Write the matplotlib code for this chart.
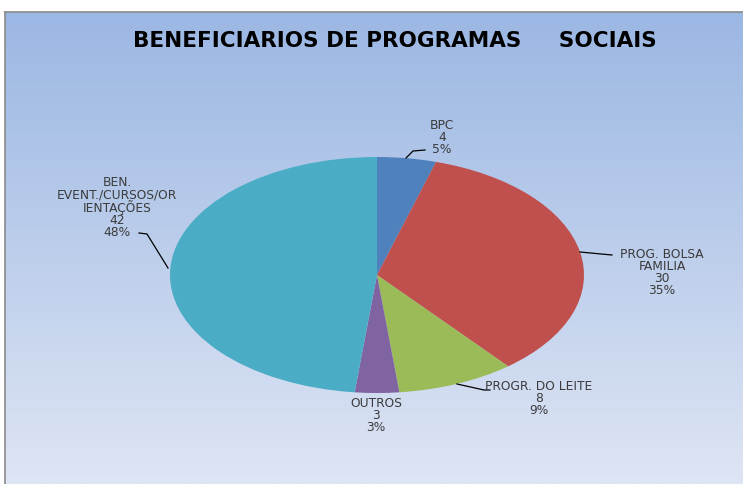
import numpy as np
import matplotlib
matplotlib.use("Agg")
import matplotlib.pyplot as plt
from matplotlib.lines import Line2D

# ---- data ----
categories = ["BPC", "PROG. BOLSA\nFAMILIA", "PROGR. DO LEITE", "OUTROS",
              "BEN.\nEVENT./CURSOS/OR\nIENTAÇÕES"]
values = [4, 30, 8, 3, 42]
pct_labels = ["5%", "35%", "9%", "3%", "48%"]
colors = ["#4F81BD", "#C0504D", "#9BBB59", "#8064A2", "#4BACC6"]
title = "BENEFICIARIOS DE PROGRAMAS     SOCIAIS"

W, H = 743, 484
fig = plt.figure(figsize=(W / 100, H / 100), dpi=100)
fig.patch.set_facecolor("white")

# ---- gradient background (chart area) ----
top = np.array([155, 183, 227]) / 255
bot = np.array([222, 229, 244]) / 255
t = np.linspace(0, 1, 256)[:, None]
grad = (top[None, :] * (1 - t) + bot[None, :] * t)[:, None, :]
bg = fig.add_axes([5 / W, 0, (W - 5) / W, (H - 12) / H])
bg.imshow(grad, aspect="auto", extent=[0, 1, 0, 1], origin="upper")
bg.set_axis_off()
fig.add_artist(Line2D([5 / W, 1], [1 - 12 / H, 1 - 12 / H], color="#8a8a8a", lw=1.2))
fig.add_artist(Line2D([5 / W, 5 / W], [0, 1 - 12 / H], color="#8a8a8a", lw=1.2))

# ---- pie axes: unit circle mapped onto ellipse ----
CX, CY, RX, RY = 377, 275, 207, 118
ax = fig.add_axes([0, 0, 1, 1])
ax.patch.set_alpha(0)

ax.pie(values, colors=colors, startangle=90, counterclock=False, radius=1.0,
       wedgeprops=dict(linewidth=0), center=(0, 0), frame=True)
ax.set_xlim((0 - CX) / RX, (W - CX) / RX)
ax.set_ylim((CY - H) / RY, (CY - 0) / RY)
ax.set_aspect("auto")
ax.set_axis_off()


def p(x, y):
    return ((x - CX) / RX, (CY - y) / RY)


# label anchor (pixel, center-x, top-y) and leader polyline (pixels)
label_pos = [(442, 119), (662, 248), (539, 380), (376, 397), (117, 176)]
leaders = [
    [(406, 158), (413, 151), (425, 150)],
    [(580, 252), (612, 255)],
    [(457, 384), (484, 390), (490, 390)],
    None,
    [(168, 268), (147, 234), (139, 233)],
]

tc = "#3b3b3b"
for cat, v, pc, lp, ld in zip(categories, values, pct_labels, label_pos, leaders):
    txt = f"{cat}\n{v}\n{pc}"
    x, y = p(*lp)
    ax.text(x, y, txt, ha="center", va="top", fontsize=8.8, color=tc,
            linespacing=0.9, family="DejaVu Sans")
    if ld:
        xs, ys = zip(*[p(*q) for q in ld])
        ax.plot(xs, ys, color="black", lw=0.9)

fig.text(395 / W, 1 - 41 / H, title, ha="center", va="center",
         fontsize=15.5, fontweight="bold", color="black", family="DejaVu Sans")

fig.savefig("out.png", dpi=100)
